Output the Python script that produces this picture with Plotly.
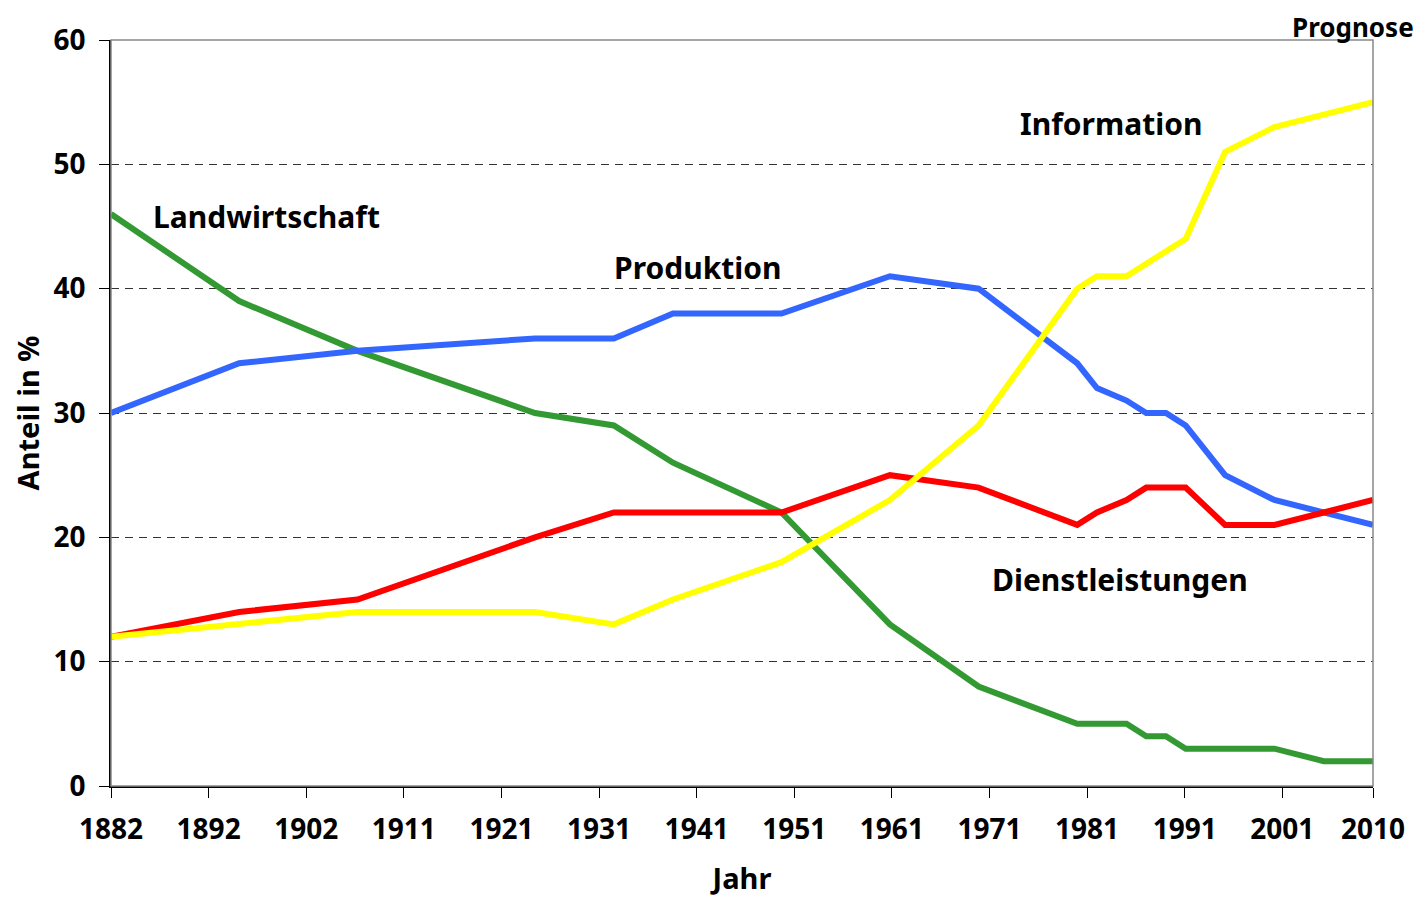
import plotly.graph_objects as go

years = [1882, 1895, 1907, 1925, 1933, 1939, 1950, 1961, 1970, 1980, 1982, 1985, 1987, 1989, 1991, 1995, 2000, 2005, 2010]
landwirtschaft = [46, 39, 35, 30, 29, 26, 22, 13, 8, 5, 5, 5, 4, 4, 3, 3, 3, 2, 2]
produktion = [30, 34, 35, 36, 36, 38, 38, 41, 40, 34, 32, 31, 30, 30, 29, 25, 23, 22, 21]
dienstleistungen = [12, 14, 15, 20, 22, 22, 22, 25, 24, 21, 22, 23, 24, 24, 24, 21, 21, 22, 23]
information = [12, 13, 14, 14, 13, 15, 18, 23, 29, 40, 41, 41, 42, 43, 44, 51, 53, 54, 55]

tick_pos = [1882 + 9.9 * k for k in range(13)] + [2010]
tick_text = ["1882", "1892", "1902", "1911", "1921", "1931", "1941", "1951",
             "1961", "1971", "1981", "1991", "2001", "2010"]
y_ticks = [0, 10, 20, 30, 40, 50, 60]

FONT = "Noto Sans"
fig = go.Figure()
series = [
    ("Landwirtschaft", landwirtschaft, "#339933"),
    ("Produktion", produktion, "#3366FF"),
    ("Dienstleistungen", dienstleistungen, "#FF0000"),
    ("Information", information, "#FFFF00"),
]
for name, vals, col in series:
    fig.add_trace(go.Scatter(x=years, y=vals, mode="lines", name=name,
                             line=dict(color=col, width=6), showlegend=False))

lab_font = dict(family=FONT, size=30, color="black", weight="bold")
labels = [
    ("Landwirtschaft", 1897.8, 45.8),
    ("Produktion", 1941.5, 41.7),
    ("Information", 1983.4, 53.3),
    ("Dienstleistungen", 1984.3, 16.6),
]
for txt, xv, yv in labels:
    fig.add_annotation(x=xv, y=yv, text=txt, showarrow=False, font=lab_font,
                       xanchor="center", yanchor="middle")
fig.add_annotation(x=0.984, y=1.0429, xref="paper", yref="paper", text="Prognose",
                   showarrow=False, font=dict(family=FONT, size=26, color="black", weight="bold"),
                   xanchor="center", yanchor="top", borderpad=0)

fig.add_shape(type="rect", xref="paper", yref="paper", x0=0, y0=0, x1=1, y1=1,
              line=dict(color="#888888", width=1.5), layer="above")

tf = dict(family=FONT, size=28, color="black", weight="bold")
fig.update_layout(
    width=1420, height=889,
    margin=dict(l=103, r=55, t=32, b=111),
    paper_bgcolor="white", plot_bgcolor="white",
    font=dict(family=FONT, size=28, color="black", weight="bold"),
    xaxis=dict(range=[1882, 2010], tickvals=tick_pos, ticktext=tick_text,
               showgrid=False, zeroline=False, showline=True, linecolor="black",
               linewidth=1.5, ticks="outside", ticklen=10, tickcolor="black",
               tickfont=tf, ticklabelstandoff=8, automargin=False,
               title=dict(text="Jahr", font=dict(family=FONT, size=29, weight="bold"), standoff=26)),
    yaxis=dict(range=[0, 60], tickvals=y_ticks, showgrid=True, gridcolor="#333333",
               griddash="8px,6px", gridwidth=1, zeroline=False, showline=True,
               linecolor="black", linewidth=1.5, ticks="outside", ticklen=10,
               tickcolor="black", tickfont=tf, ticklabelstandoff=8, automargin=False,
               title=dict(text="Anteil in %", font=dict(family=FONT, size=29, weight="bold"), standoff=16)),
)

fig.write_html("out.html")
